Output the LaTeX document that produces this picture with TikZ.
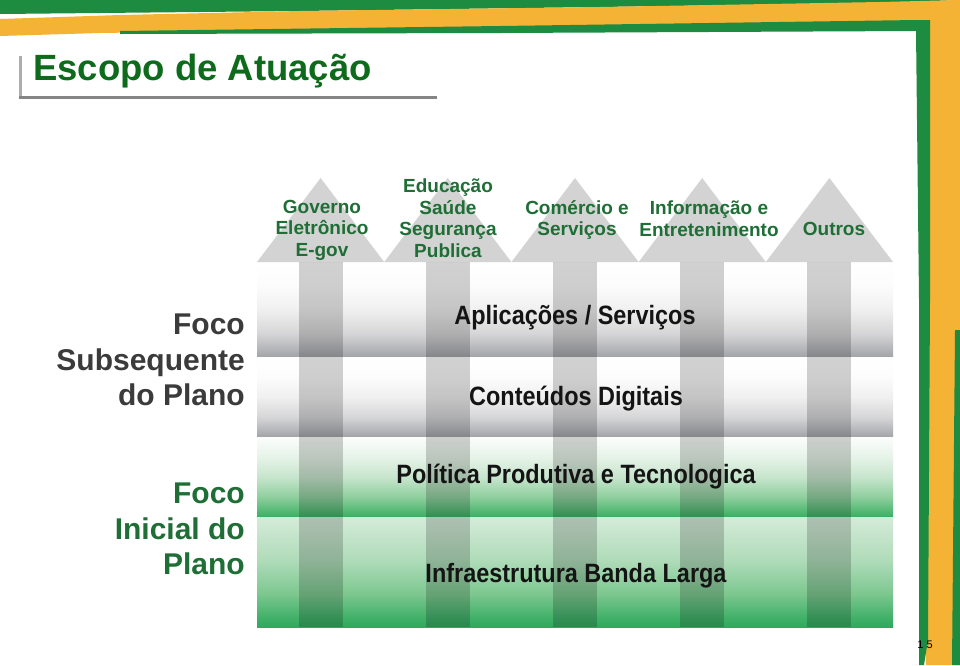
\documentclass[tikz,border=0pt]{standalone}
\usepackage{graphicx}
\usepackage{fontspec}
\setmainfont{Liberation Sans}
\definecolor{framegreen}{HTML}{1E8C40}
\definecolor{frameorange}{HTML}{F5B335}
\definecolor{titlegreen}{HTML}{0E6B1C}
\definecolor{leafgreen}{HTML}{1F6E36}
\definecolor{darktext}{HTML}{3B3B3B}
\definecolor{headgrey}{HTML}{D3D3D3}
\definecolor{gbA}{HTML}{A2A3A7}
\definecolor{gbB}{HTML}{B3B4B7}
\definecolor{gbC}{HTML}{D6D6D8}
\definecolor{gbD}{HTML}{F0F0F0}
\definecolor{gbE}{HTML}{FCFCFC}
\definecolor{grA}{HTML}{3AAE63}
\definecolor{grB}{HTML}{55B975}
\definecolor{grC}{HTML}{8FCF9E}
\definecolor{grD}{HTML}{C7E5CD}
\definecolor{grE}{HTML}{E6F3E8}
\definecolor{grF}{HTML}{FBFDFB}
\definecolor{gsA}{HTML}{2FA95D}
\definecolor{gsB}{HTML}{3FB068}
\definecolor{gsC}{HTML}{7CC78F}
\definecolor{gsD}{HTML}{AEDBB8}
\definecolor{gsE}{HTML}{D5EBD9}
\pgfdeclareverticalshading{greyband}{100bp}{color(0bp)=(gbA); color(25bp)=(gbA);
  color(29bp)=(gbB); color(37.5bp)=(gbC); color(50bp)=(gbD); color(62.5bp)=(gbE);
  color(75bp)=(white); color(100bp)=(white)}
\pgfdeclareverticalshading{greenbandtop}{100bp}{color(0bp)=(grA); color(25bp)=(grA);
  color(29bp)=(grB); color(37.5bp)=(grC); color(50bp)=(grD); color(62.5bp)=(grE);
  color(75bp)=(grF); color(100bp)=(grF)}
\pgfdeclareverticalshading{greenbandlow}{100bp}{color(0bp)=(gsA); color(25bp)=(gsA);
  color(29bp)=(gsB); color(40bp)=(gsC); color(55bp)=(gsD);
  color(75bp)=(gsE); color(100bp)=(gsE)}
\newcommand{\narrowtext}[1]{\scalebox{0.885}[1]{#1}}

\begin{document}
\begin{tikzpicture}[x=1pt,y=-1pt,
  toplabel/.style={font=\fontsize{19}{21.5}\selectfont\bfseries,text=leafgreen,align=center,inner sep=0pt},
  bandlabel/.style={font=\fontsize{26.5}{28}\selectfont\bfseries,text=black!92,inner sep=0pt},
  focuslabel/.style={font=\fontsize{30}{35.5}\selectfont\bfseries,align=right,anchor=east,inner sep=0pt},
  shaft/.style={fill=black,fill opacity=0.18},
  arrowhead/.style={fill=headgrey}]
  \useasboundingbox (0,0) rectangle (960,665);
  \fill[framegreen] (0,0) -- (960,0) -- (880,3) -- (600,7) -- (300,11) -- (0,14) -- cycle;
  \fill[frameorange] (0,19) -- (120,15) -- (300,11) -- (600,7) -- (880,2) -- (960,0) -- (960,665)
    -- (926,665) -- (922,420) -- (926,200) -- (928,26) -- (600,27) -- (300,30) -- (100,33) -- (0,36) -- cycle;
  \fill[framegreen] (120,31) -- (500,26) -- (917,20) -- (930,20) -- (930,300) -- (928,640) -- (924,665)
    -- (919,665) -- (919,300) -- (916,31) -- (500,33) -- (120,34) -- cycle;
  \fill[framegreen] (955,330) -- (960,330) -- (960,665) -- (952,665) -- cycle;
  \node[anchor=base west,font=\fontsize{36.5}{40}\selectfont\bfseries,text=titlegreen,inner sep=0pt] (title) at (33,80) {Escopo de Atuação};
  \draw[line width=3pt,draw=black!32] (20,56) -- (20,97);
  \draw[line width=3pt,draw=black!48] (18.5,97) -- (437,97);
  \shade[shading=greyband] (257,262) rectangle (893,357);
  \shade[shading=greyband] (257,357) rectangle (893,437);
  \shade[shading=greenbandtop] (257,437) rectangle (893,517);
  \shade[shading=greenbandlow] (257,517) rectangle (893,627);
  \foreach \cx in {320.6,447.8,575,702.2,829.4} {
    \fill[arrowhead] ({\cx-63.6},262) -- (\cx,178) -- ({\cx+63.6},262) -- cycle;
    \fill[shaft] ({\cx-22},262) rectangle ({\cx+22},627);
  }
  \node[toplabel] (egov) at (322,230) {Governo\\Eletrônico\\E-gov};
  \node[toplabel] (social) at (448,218) {Educação\\Saúde\\Segurança\\Publica};
  \node[toplabel] (trade) at (577,220) {Comércio e\\Serviços};
  \node[toplabel] (media) at (709,218.5) {Informação e\\Entretenimento};
  \node[toplabel] (others) at (834,229) {Outros};
  \node[bandlabel] (apps) at (575,318) {\narrowtext{Aplicações / Serviços}};
  \node[bandlabel] (content) at (576,399) {\narrowtext{Conteúdos Digitais}};
  \node[bandlabel] (policy) at (576,477) {\narrowtext{Política Produtiva e Tecnologica}};
  \node[bandlabel] (infra) at (576,576) {\narrowtext{Infraestrutura Banda Larga}};
  \node[focuslabel,text=darktext] (later) at (245,360) {Foco\\Subsequente\\do Plano};
  \node[focuslabel,text=leafgreen] (first) at (245,529) {Foco\\Inicial do\\Plano};
  \node[font=\fontsize{11}{13}\selectfont,inner sep=0pt] (page) at (925,645) {1 5};
\end{tikzpicture}
\end{document}
